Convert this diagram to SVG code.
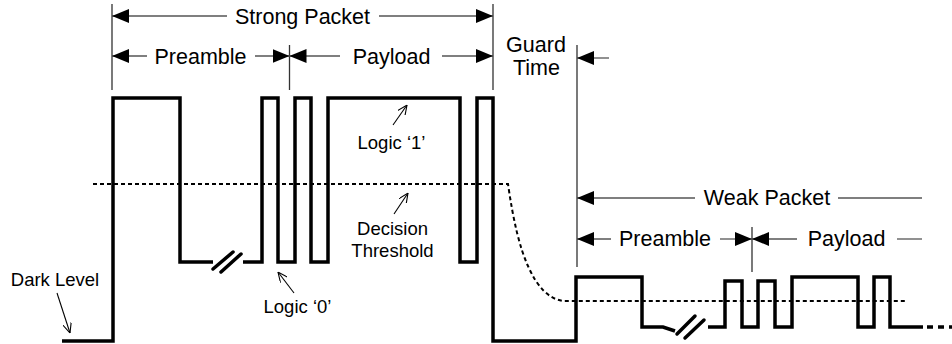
<svg xmlns="http://www.w3.org/2000/svg" width="952" height="344" viewBox="0 0 952 344">
  <defs>
    <style>
      .lbl { font-family: "Liberation Sans", Arial, sans-serif; font-size: 21.5px; fill: #000; text-anchor: middle; }
      .note { font-family: "Liberation Sans", Arial, sans-serif; font-size: 18.5px; fill: #000; text-anchor: middle; }
      .sig { fill: none; stroke: #000; stroke-width: 3.5; stroke-linejoin: miter; stroke-linecap: butt; }
      .brk { fill: none; stroke: #000; stroke-width: 3.5; stroke-linecap: round; }
      .thr { fill: none; stroke: #000; stroke-width: 2; stroke-dasharray: 4 3; }
      .dim { fill: none; stroke: #555; stroke-width: 1.3; marker-end: url(#dimArrow); }
      .dimPlain { fill: none; stroke: #555; stroke-width: 1.3; }
      .div { fill: none; stroke: #333; stroke-width: 1.3; }
      .ann { fill: none; stroke: #000; stroke-width: 1.1; marker-end: url(#openArrow); }
    </style>
    <marker id="dimArrow" viewBox="0 0 17 14" refX="17" refY="7" markerWidth="17" markerHeight="14" markerUnits="userSpaceOnUse" orient="auto">
      <path d="M0,0 L17,7 L0,14 Z" fill="#000"/>
    </marker>
    <marker id="openArrow" viewBox="0 0 10 9" refX="10" refY="4.5" markerWidth="10" markerHeight="9" markerUnits="userSpaceOnUse" orient="auto">
      <path d="M0,0 L10,4.5 L0,9" fill="none" stroke="#000" stroke-width="1.1"/>
    </marker>
  </defs>

  <rect width="952" height="344" fill="#fff"/>

  <!-- decision threshold -->
  <g id="threshold">
    <path class="thr" d="M93,184 H508 Q516,240 528,266 Q542,298 563,301 H907"/>
  </g>

  <!-- received signal -->
  <g id="signal">
    <path class="sig" d="M62,341 H113 V98 H180 V262 H213"/>
    <path class="sig" d="M243,262 H262 V98 H278 V262 H295 V98 H311 V262 H328 V98 H460 V262 H477 V98 H493 V341 H576 V277 H642 V327 H663 L675,331"/>
    <path class="sig" d="M708,327 H725 V281 H742 V327 H758 V281 H775 V327 H792 V277 H858 V327 H874 V277 H890 V327 H923"/>
    <path class="sig" d="M927,327 H952" stroke-dasharray="6 5"/>
    <path class="brk" d="M213,269 L233,252 M221,272 L241,254"/>
    <path class="brk" d="M677,334 L695,316 M685,338 L704,320"/>
  </g>

  <!-- boundary markers -->
  <g id="dividers">
    <path class="div" d="M112,4 V90 M289.5,45 V90 M493,4 V90 M577,45 V267 M752,227 V272"/>
  </g>

  <!-- dimension arrows and annotation pointers -->
  <g id="connectors">
    <path class="dim" d="M227,16 H112"/>
    <path class="dim" d="M379,16 H493"/>
    <path class="dim" d="M147,56 H112"/>
    <path class="dim" d="M255,56 H289.5"/>
    <path class="dim" d="M340,56 H289.5"/>
    <path class="dim" d="M442,56 H493"/>
    <path class="dim" d="M609,58 H577"/>
    <path class="dim" d="M695,198 H577"/>
    <path class="dimPlain" d="M838,198 H922"/>
    <path class="dim" d="M611,239 H577"/>
    <path class="dim" d="M720,239 H752"/>
    <path class="dim" d="M797,239 H752"/>
    <path class="dimPlain" d="M897,239 H922"/>
    <path class="ann" d="M57,293 L70,333"/>
    <path class="ann" d="M294,293 L278,272"/>
    <path class="ann" d="M393,125 L407,105"/>
    <path class="ann" d="M394,214 L408,193"/>
  </g>

  <g id="strong-packet"><text class="lbl" x="302.5" y="23.5">Strong Packet</text></g>
  <g id="strong-preamble"><text class="lbl" x="200.5" y="64">Preamble</text></g>
  <g id="strong-payload"><text class="lbl" x="391.5" y="64">Payload</text></g>
  <g id="guard-time">
    <text class="lbl" x="536" y="52">Guard</text>
    <text class="lbl" x="536.5" y="75">Time</text>
  </g>
  <g id="weak-packet"><text class="lbl" x="767" y="205">Weak Packet</text></g>
  <g id="weak-preamble"><text class="lbl" x="665" y="246">Preamble</text></g>
  <g id="weak-payload"><text class="lbl" x="846.5" y="246">Payload</text></g>
  <g id="logic-one"><text class="note" x="391.5" y="149">Logic ‘1’</text></g>
  <g id="decision-threshold">
    <text class="note" x="392.5" y="235">Decision</text>
    <text class="note" x="392.5" y="257">Threshold</text>
  </g>
  <g id="logic-zero"><text class="note" x="297.5" y="313">Logic ‘0’</text></g>
  <g id="dark-level"><text class="note" x="55" y="286">Dark Level</text></g>
</svg>
